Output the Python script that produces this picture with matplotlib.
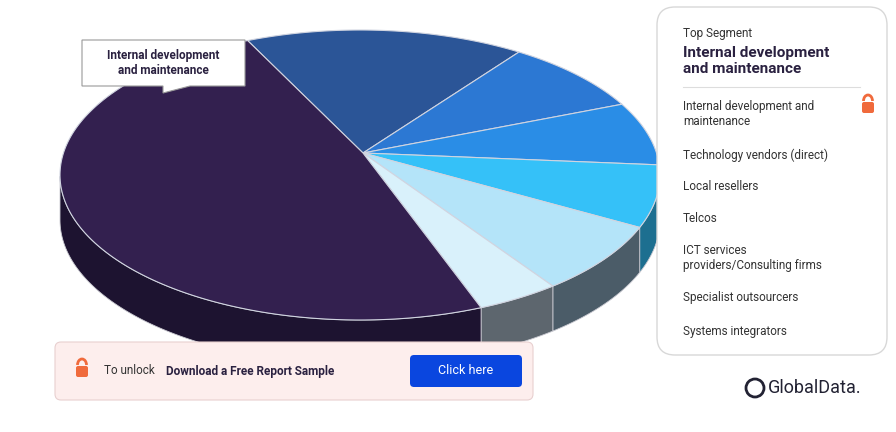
import numpy as np
import matplotlib
matplotlib.use("Agg")
import matplotlib.pyplot as plt
from matplotlib.patches import Polygon, FancyBboxPatch, Arc

plt.rcParams['font.family'] = ['Roboto', 'DejaVu Sans']

segments = ["Technology vendors (direct)", "Local resellers", "Telcos",
            "ICT services providers/Consulting firms", "Specialist outsourcers",
            "Systems integrators", "Internal development and maintenance"]
values = [15, 8, 7, 7, 8, 4.5, 50.5]
legend_items = ["Internal development and\nmaintenance", "Technology vendors (direct)",
                "Local resellers", "Telcos", "ICT services\nproviders/Consulting firms",
                "Specialist outsourcers", "Systems integrators"]
top_colors = ["#2b5597", "#2c78d3", "#2a8de6", "#35c1f8", "#b4e4f9", "#d9f1fb", "#33204f"]
side_colors = ["#1c3866", "#1d5090", "#1b5e9a", "#1d6f90", "#4b5c68", "#5d666e", "#1d1330"]

fig = plt.figure(figsize=(8.96, 4.32), dpi=100)
ax = fig.add_axes([0, 0, 1, 1])
ax.set_xlim(0, 896); ax.set_ylim(432, 0); ax.axis("off")

cx, cy, rx, ry, depth = 360, 175, 300, 145, 45
def pt(t):
    return cx + rx*np.cos(t), cy - ry*np.sin(t)

start = np.deg2rad(112)
fr = np.array(values)/sum(values)
bounds = start - np.concatenate([[0], np.cumsum(fr)])*2*np.pi

for i in range(len(values)):
    ts = np.linspace(bounds[i], bounds[i+1], 200)
    ts = ts[np.sin(ts) <= 0.0001]
    if len(ts) < 2:
        continue
    x, y = pt(ts)
    poly = np.vstack([np.column_stack([x, y]), np.column_stack([x[::-1], y[::-1]+depth])])
    ax.add_patch(Polygon(poly, closed=True, fc=side_colors[i], ec="#c8c8d0", lw=0.6))
for i in range(len(values)):
    ts = np.linspace(bounds[i], bounds[i+1], 200)
    x, y = pt(ts)
    poly = np.vstack([[cx+3, cy-22], np.column_stack([x, y])])
    ax.add_patch(Polygon(poly, closed=True, fc=top_colors[i], ec="#d0d4e0", lw=0.8))

ax.add_patch(Polygon([[82, 40], [245, 40], [245, 86], [190, 86], [163, 93], [163, 86], [82, 86]],
                     closed=True, fc="white", ec="#999999", lw=0.8))
ax.text(163, 63, "Internal development\nand maintenance", ha="center", va="center",
        fontsize=8.5, fontweight="bold", color="#2a2140", linespacing=1.3)

ax.add_patch(FancyBboxPatch((657, 7), 230, 348, boxstyle="round,pad=0,rounding_size=18",
                            fc="white", ec="#d8d8d8", lw=1))
ax.text(683, 33, "Top Segment", fontsize=8.5, color="#333333", va="center")
ax.text(683, 61, "Internal development\nand maintenance", fontsize=11, fontweight="bold",
        color="#2a2140", va="center", linespacing=1.1)
ax.plot([683, 860], [87, 87], color="#dddddd", lw=0.8)
ys = [114, 155, 187, 218, 258, 298, 331]
for t, y in zip(legend_items, ys):
    ax.text(683, y, t, fontsize=8.5, color="#333333", va="center", linespacing=1.25)

def lock(x, y):
    ax.add_patch(Arc((x, y-5), 9, 12, theta1=180, theta2=360, color="#f06a3c", lw=2))
    ax.add_patch(FancyBboxPatch((x-6, y-4), 12, 11, boxstyle="round,pad=0,rounding_size=2",
                                fc="#f06a3c", ec="none"))
lock(868, 106)

ax.add_patch(FancyBboxPatch((55, 342), 478, 58, boxstyle="round,pad=0,rounding_size=6",
                            fc="#fdeeed", ec="#e8d0d0", lw=0.8))
lock(82, 370)
ax.text(104, 371, "To unlock", fontsize=8.5, color="#333333", va="center")
ax.text(166, 371, "Download a Free Report Sample", fontsize=8.5, fontweight="bold",
        color="#2a2140", va="center")
ax.add_patch(FancyBboxPatch((410, 355), 112, 32, boxstyle="round,pad=0,rounding_size=4",
                            fc="#0a46df", ec="none"))
ax.text(466, 371, "Click here", fontsize=9, color="white", ha="center", va="center")

ax.add_patch(plt.Circle((755, 388), 9, fc="none", ec="#222233", lw=2))
ax.text(768, 388, "GlobalData.", fontsize=13, color="#222233", va="center")

fig.savefig("out.png", dpi=100)
